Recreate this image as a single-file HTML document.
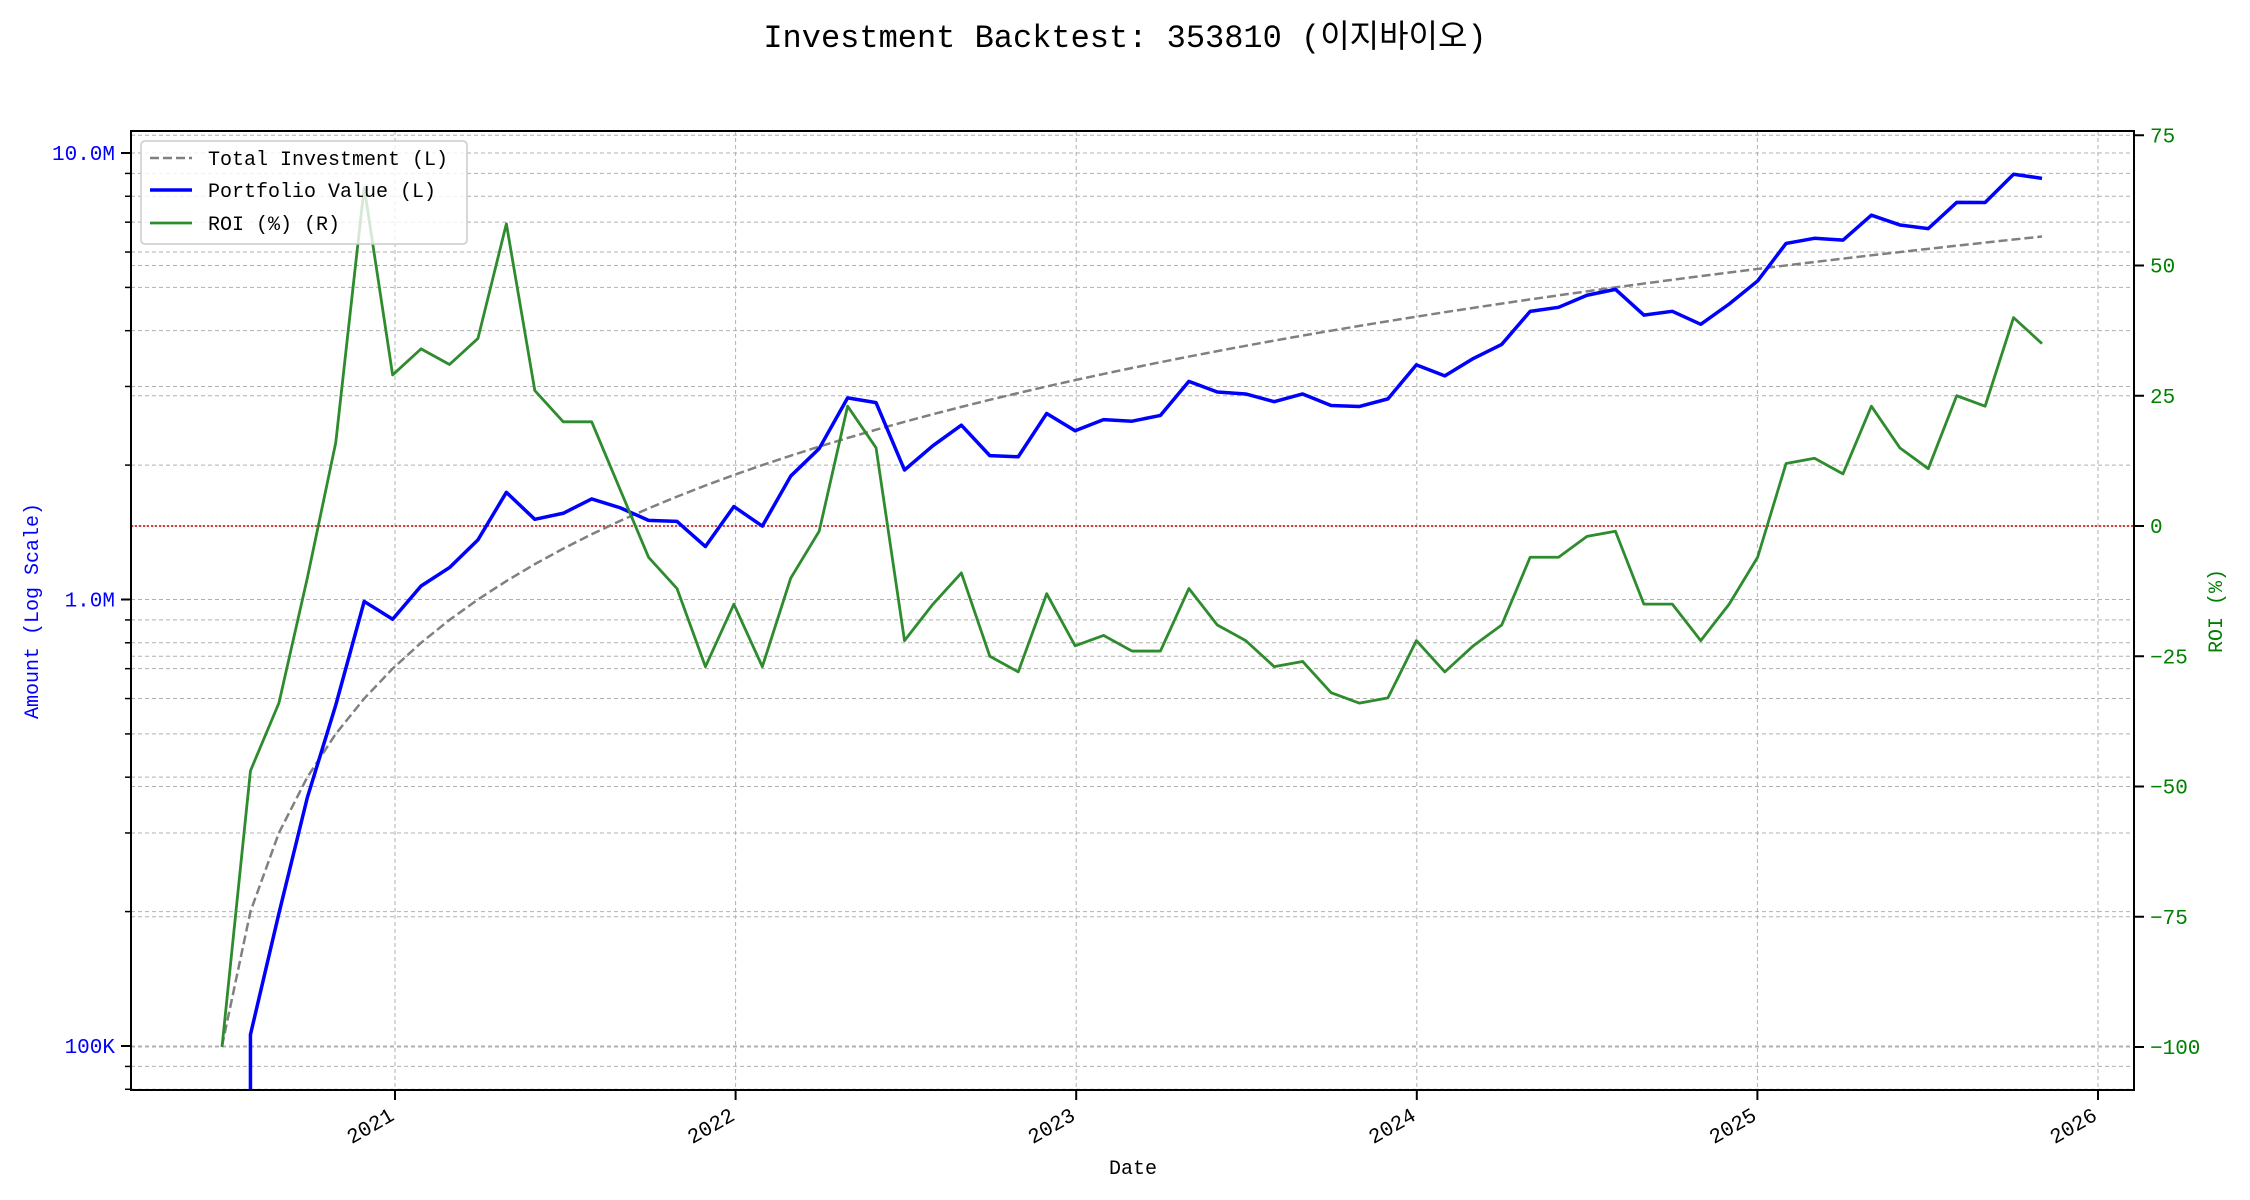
<!DOCTYPE html>
<html><head><meta charset="utf-8"><style>
html,body{margin:0;padding:0;background:#fff;}
svg{display:block;font-family:"Liberation Mono","Noto Sans CJK KR",monospace;}
</style></head><body>
<svg id="s" width="2250" height="1200" xmlns="http://www.w3.org/2000/svg"></svg>
<script>
const roi=[-100,-47,-34,-10,16,65,29,34,31,36,58,26,20,20,7,-6,-12,-27,-15,-27,-10,-1,23,15,-22,-15,-9,-25,-28,-13,-23,-21,-24,-24,-12,-19,-22,-27,-26,-32,-34,-33,-22,-28,-23,-19,-6,-6,-2,-1,-15,-15,-22,-15,-6,12,13,10,23,15,11,25,23,40,35];
const L=131,R=2134,T=131,B=1090;
const X=i=>222+i*1820/64;
const YL=v=>153+(7-Math.log10(v))*446.5;
const YR=r=>526-r*5.21;
let s='';
for(let y=2021;y<=2026;y++){const x=395+(y-2021)*340.6;s+=`<line x1="${x}" y1="${T}" x2="${x}" y2="${B}" stroke="#b0b0b0" stroke-dasharray="4,3" stroke-width="1"/>`;}
for(let e=4;e<=7;e++)for(let m=1;m<10;m++){const v=m*Math.pow(10,e);const y=YL(v);if(y<T||y>B)continue;
s+=`<line x1="${L}" y1="${y}" x2="${R}" y2="${y}" stroke="#b0b0b0" stroke-dasharray="4,3" stroke-width="1"/>`;
s+=`<line x1="${L-(m==1?10:6)}" y1="${y}" x2="${L}" y2="${y}" stroke="#000" stroke-width="${m==1?2:1.5}"/>`;}
for(let r=-100;r<=75;r+=25){const y=YR(r);s+=`<line x1="${L}" y1="${y}" x2="${R}" y2="${y}" stroke="#b0b0b0" stroke-dasharray="4,3" stroke-width="1"/>`;
s+=`<line x1="${R}" y1="${y}" x2="${R+10}" y2="${y}" stroke="#000" stroke-width="2"/>`;
s+=`<text x="${R+16}" y="${y+7}" font-size="21" fill="green">${r<0?'−'+(-r):r}</text>`;}
[[1e7,'10.0M'],[1e6,'1.0M'],[1e5,'100K']].forEach(([v,t])=>{s+=`<text x="${L-16}" y="${YL(v)+7}" font-size="21" fill="blue" text-anchor="end">${t}</text>`;});
for(let y=2021;y<=2026;y++){const x=395+(y-2021)*340.6;s+=`<line x1="${x}" y1="${B}" x2="${x}" y2="${B+10}" stroke="#000" stroke-width="2"/>`;
s+=`<text transform="translate(${x-6},${B+18}) rotate(-30)" font-size="21" text-anchor="end" dominant-baseline="hanging">${y}</text>`;}
s+=`<line x1="${L}" y1="${YR(0)}" x2="${R}" y2="${YR(0)}" stroke="#c00" stroke-dasharray="2,2" stroke-width="1.5"/>`;
let inv=[],pv=[`${X(1)},${B}`],rp=[];
roi.forEach((r,i)=>{const I=100000*(i+1);inv.push(`${X(i)},${YL(I)}`);if(i>0)pv.push(`${X(i)},${YL(I*(1+r/100))}`);rp.push(`${X(i)},${YR(r)}`);});
s+=`<defs><clipPath id="c"><rect x="${L}" y="${T}" width="${R-L}" height="${B-T}"/></clipPath></defs><g clip-path="url(#c)">`;
s+=`<polyline points="${inv.join(' ')}" fill="none" stroke="#808080" stroke-width="2.5" stroke-dasharray="9,4"/>`;
s+=`<polyline points="${pv.join(' ')}" fill="none" stroke="blue" stroke-width="3.5" stroke-linejoin="round"/>`;
s+=`<polyline points="${rp.join(' ')}" fill="none" stroke="#2e8b2e" stroke-width="2.8" stroke-linejoin="round"/>`;
s+=`</g>`;
s+=`<rect x="${L}" y="${T}" width="${R-L}" height="${B-T}" fill="none" stroke="#000" stroke-width="2"/>`;
s+=`<rect x="141" y="141" width="326" height="103" rx="4" fill="#fff" fill-opacity="0.8" stroke="#ccc" stroke-width="1.5"/>`;
s+=`<line x1="150" y1="158" x2="192" y2="158" stroke="#808080" stroke-width="2.5" stroke-dasharray="9,4"/><text x="208" y="165" font-size="20">Total Investment (L)</text>`;
s+=`<line x1="150" y1="190" x2="192" y2="190" stroke="blue" stroke-width="3.5"/><text x="208" y="197" font-size="20">Portfolio Value (L)</text>`;
s+=`<line x1="150" y1="223" x2="192" y2="223" stroke="#2e8b2e" stroke-width="2.8"/><text x="208" y="230" font-size="20">ROI (%) (R)</text>`;
s+=`<text x="1125" y="47" font-size="32" text-anchor="middle">Investment Backtest: 353810 (이지바이오)</text>`;
s+=`<text x="1133" y="1174" font-size="20" text-anchor="middle">Date</text>`;
s+=`<text transform="translate(38,611) rotate(-90)" font-size="20" fill="blue" text-anchor="middle">Amount (Log Scale)</text>`;
s+=`<text transform="translate(2222,611) rotate(-90)" font-size="20" fill="green" text-anchor="middle">ROI (%)</text>`;
document.getElementById('s').innerHTML=s;
</script>
</body></html>
